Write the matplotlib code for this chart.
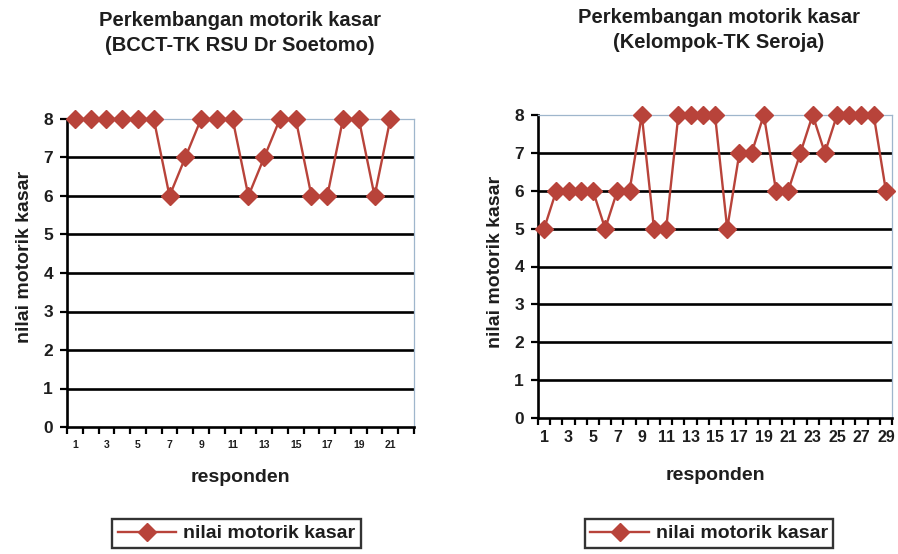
import matplotlib
matplotlib.use("Agg")
import matplotlib.pyplot as plt
from matplotlib.ticker import FixedLocator, NullFormatter

plt.rcParams['font.family'] = ['Liberation Sans', 'DejaVu Sans']
plt.rcParams['font.weight'] = 'bold'

# Scores per respondent
bcct_scores = [8, 8, 8, 8, 8, 8, 6, 7, 8, 8, 8, 6, 7, 8, 8, 6, 6, 8, 8, 6, 8]
seroja_scores = [5, 6, 6, 6, 6, 5, 6, 6, 8, 5, 5, 8, 8, 8, 8, 5, 7, 7, 8, 6,
                 6, 7, 8, 7, 8, 8, 8, 8, 6]

bcct_title = "Perkembangan motorik kasar\n(BCCT-TK RSU Dr Soetomo)"
seroja_title = "Perkembangan motorik kasar\n(Kelompok-TK Seroja)"
y_label = "nilai motorik kasar"
x_label = "responden"
series_name = "nilai motorik kasar"
y_ticks = [0, 1, 2, 3, 4, 5, 6, 7, 8]

LINE_COLOR = "#b8433a"
TEXT_COLOR = "#1e1e1e"
BORDER_COLOR = "#9fb6cc"

W, H = 898, 554
fig = plt.figure(figsize=(8.98, 5.54), dpi=100)


def frac_rect(x0, y0, x1, y1):
    return [x0 / W, 1 - y1 / H, (x1 - x0) / W, (y1 - y0) / H]


def draw_panel(rect, scores, n_cats, title, xtick_size, title_xy, ylabel_xy,
               xlabel_y, legend_rect):
    ax = fig.add_axes(rect)
    x = list(range(1, len(scores) + 1))
    ax.set_xlim(0.5, n_cats + 0.5)
    ax.set_ylim(0, 8)

    for v in y_ticks[1:-1]:
        ax.axhline(v, color="black", lw=1.9, zorder=1)

    line, = ax.plot(x, scores, color=LINE_COLOR, lw=1.7, marker="D",
                    markersize=9.5, markeredgecolor=LINE_COLOR, zorder=3,
                    clip_on=False)

    for s in ("top", "right"):
        ax.spines[s].set_color(BORDER_COLOR)
        ax.spines[s].set_linewidth(0.9)
    for s in ("left", "bottom"):
        ax.spines[s].set_color("black")
        ax.spines[s].set_linewidth(1.9)

    ax.set_yticks(y_ticks)
    ax.tick_params(axis="y", direction="out", length=5, width=1.6,
                   labelsize=12.5, colors="black", labelcolor=TEXT_COLOR, pad=5)

    ax.xaxis.set_major_locator(FixedLocator([i + 0.5 for i in range(0, n_cats + 1)]))
    ax.xaxis.set_major_formatter(NullFormatter())
    ax.xaxis.set_minor_locator(FixedLocator(list(range(1, n_cats + 1, 2))))
    ax.set_xticklabels([str(i) for i in range(1, n_cats + 1, 2)], minor=True)
    ax.tick_params(axis="x", which="major", direction="out", length=5, width=1.6,
                   colors="black")
    ax.tick_params(axis="x", which="minor", length=0, labelsize=xtick_size,
                   labelcolor=TEXT_COLOR, pad=9)

    fig.text(title_xy[0] / W, 1 - title_xy[1] / H, title, ha="center", va="top",
             fontsize=14.5, fontweight="bold", color=TEXT_COLOR, linespacing=1.4)
    fig.text(ylabel_xy[0] / W, 1 - ylabel_xy[1] / H, y_label, rotation=90,
             ha="center", va="center", fontsize=14, fontweight="bold",
             color=TEXT_COLOR)
    fig.text(rect[0] + rect[2] / 2, 1 - xlabel_y / H, x_label, ha="center",
             va="center", fontsize=14, fontweight="bold", color=TEXT_COLOR)

    lax = fig.add_axes(legend_rect)
    lax.set_axis_off()
    leg = lax.legend([line], [series_name], loc="center", frameon=True,
                     fancybox=False, edgecolor="black", fontsize=14,
                     handlelength=3.0, borderpad=0.3, handletextpad=0.35,
                     borderaxespad=0)
    leg.get_frame().set_linewidth(1.7)
    for t in leg.get_texts():
        t.set_color(TEXT_COLOR)
        t.set_fontweight("bold")
    return ax


draw_panel(frac_rect(67, 119, 414, 427), bcct_scores, 22, bcct_title, 7.5,
           (240, 11), (25, 257), 478, frac_rect(108, 516, 365, 551))
draw_panel(frac_rect(538, 115, 892, 418), seroja_scores, 29, seroja_title, 11.5,
           (719, 8), (495, 262), 475, frac_rect(588, 516, 830, 551))

fig.savefig("out.png", dpi=100, facecolor="white")
